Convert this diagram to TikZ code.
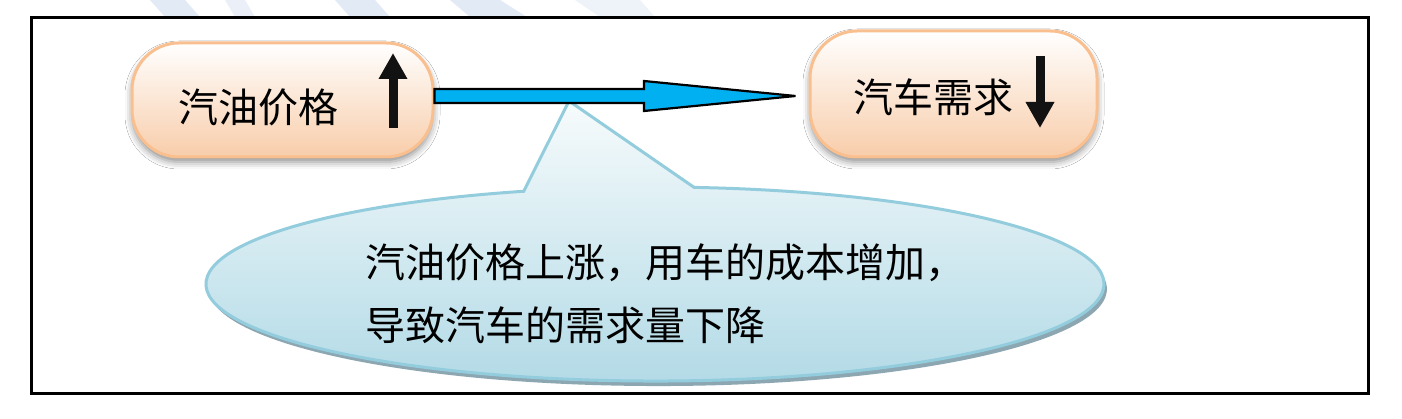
\documentclass[tikz,border=0pt]{standalone}
\usepackage{fontspec}
\newfontfamily\cjk{Noto Sans CJK SC}
\usetikzlibrary{arrows.meta,calc,shadows.blur}
\definecolor{boxborder}{HTML}{F9BF8F}
\definecolor{boxbottom}{HTML}{F8CDAA}
\definecolor{flowblue}{HTML}{00B0F0}
\definecolor{callborder}{HTML}{93CDDD}
\definecolor{calltop}{HTML}{F7FBFC}
\definecolor{callbottom}{HTML}{B2DAE6}
\definecolor{callshadow}{HTML}{8CA7B2}
\definecolor{stripe}{HTML}{E2EAF5}
\tikzset{
  x=1pt,y=1pt,
  peachbox/.style={rectangle,rounded corners=47pt,draw=boxborder,line width=3pt,
    top color=white,bottom color=boxbottom,inner sep=0pt,
    blur shadow={shadow xshift=0pt,shadow yshift=-5pt,shadow blur radius=7pt,shadow opacity=45}},
  cjktext/.style={font=\cjk\fontsize{40}{63}\selectfont,inner sep=0pt,text=black},
  updown/.style={line width=9pt,-{Triangle[width=27pt,length=26pt]},draw=black!93},
  flowarrow/.style={draw=black,line width=2.2pt,fill=flowblue,line join=miter},
}
\begin{document}
\begin{tikzpicture}
\useasboundingbox (0,0) rectangle (1402,418);
\fill[white] (0,0) rectangle (1402,418);
% faint background stripes above the frame
\fill[stripe] (150,418) -- (185,418) -- (200,401) -- (165,401) -- cycle;
\fill[stripe!70] (225,418) -- (245,418) -- (255,401) -- (235,401) -- cycle;
\fill[stripe] (335,418) -- (375,418) -- (390,401) -- (350,401) -- cycle;
\fill[stripe] (450,418) -- (500,418) -- (527,401) -- (470,401) -- cycle;
\fill[stripe!60] (575,418) -- (640,418) -- (655,401) -- (600,401) -- cycle;

% callout: shadow, body
\coordinate (cc) at (655,134);
\coordinate (ctip) at (569,317);
\path[fill=callshadow] (697.1,225.6)
  arc[start angle=85,end angle=-253,x radius=449,y radius=97] -- cycle;
\path[draw=callborder,line width=3pt,top color=calltop,bottom color=callbottom,line join=miter]
  (694.1,230.6) arc[start angle=85,end angle=-253,x radius=449,y radius=97] -- (ctip) -- cycle;
\node[cjktext,anchor=west,align=left] (calltext) at (365,124.5)
  {汽油价格上涨，用车的成本增加，\\导致汽车的需求量下降};

% boxes
\node[peachbox,minimum width=301pt,minimum height=114pt] (lbox) at (282.5,318) {};
\node[peachbox,minimum width=287pt,minimum height=126pt] (rbox) at (953.5,324) {};
\node[cjktext] (ltext) at (258,311) {汽油价格};
\node[cjktext] (rtext) at (933,321) {汽车需求};
\coordinate (upfoot) at (393,290);
\coordinate (uphead) at (393,365);
\draw[updown] (upfoot) -- (uphead);
\coordinate (dntop) at (1040,362);
\coordinate (dnhead) at (1040,290);
\draw[updown] (dntop) -- (dnhead);

% big blue arrow from lbox to rbox
\coordinate (bs) at (lbox.east|-0,322);
\coordinate (bt) at ($(rbox.west|-0,322)+(-13,0)$);
\draw[flowarrow] ($(bs)+(0,7)$) -- (644,329) -- (644,337) -- (bt) -- (644,307) -- (644,315) -- ($(bs)+(0,-7)$) -- cycle;

% frame
\draw[black,line width=3pt] (31,25) rectangle (1368,400);
\end{tikzpicture}
\end{document}
